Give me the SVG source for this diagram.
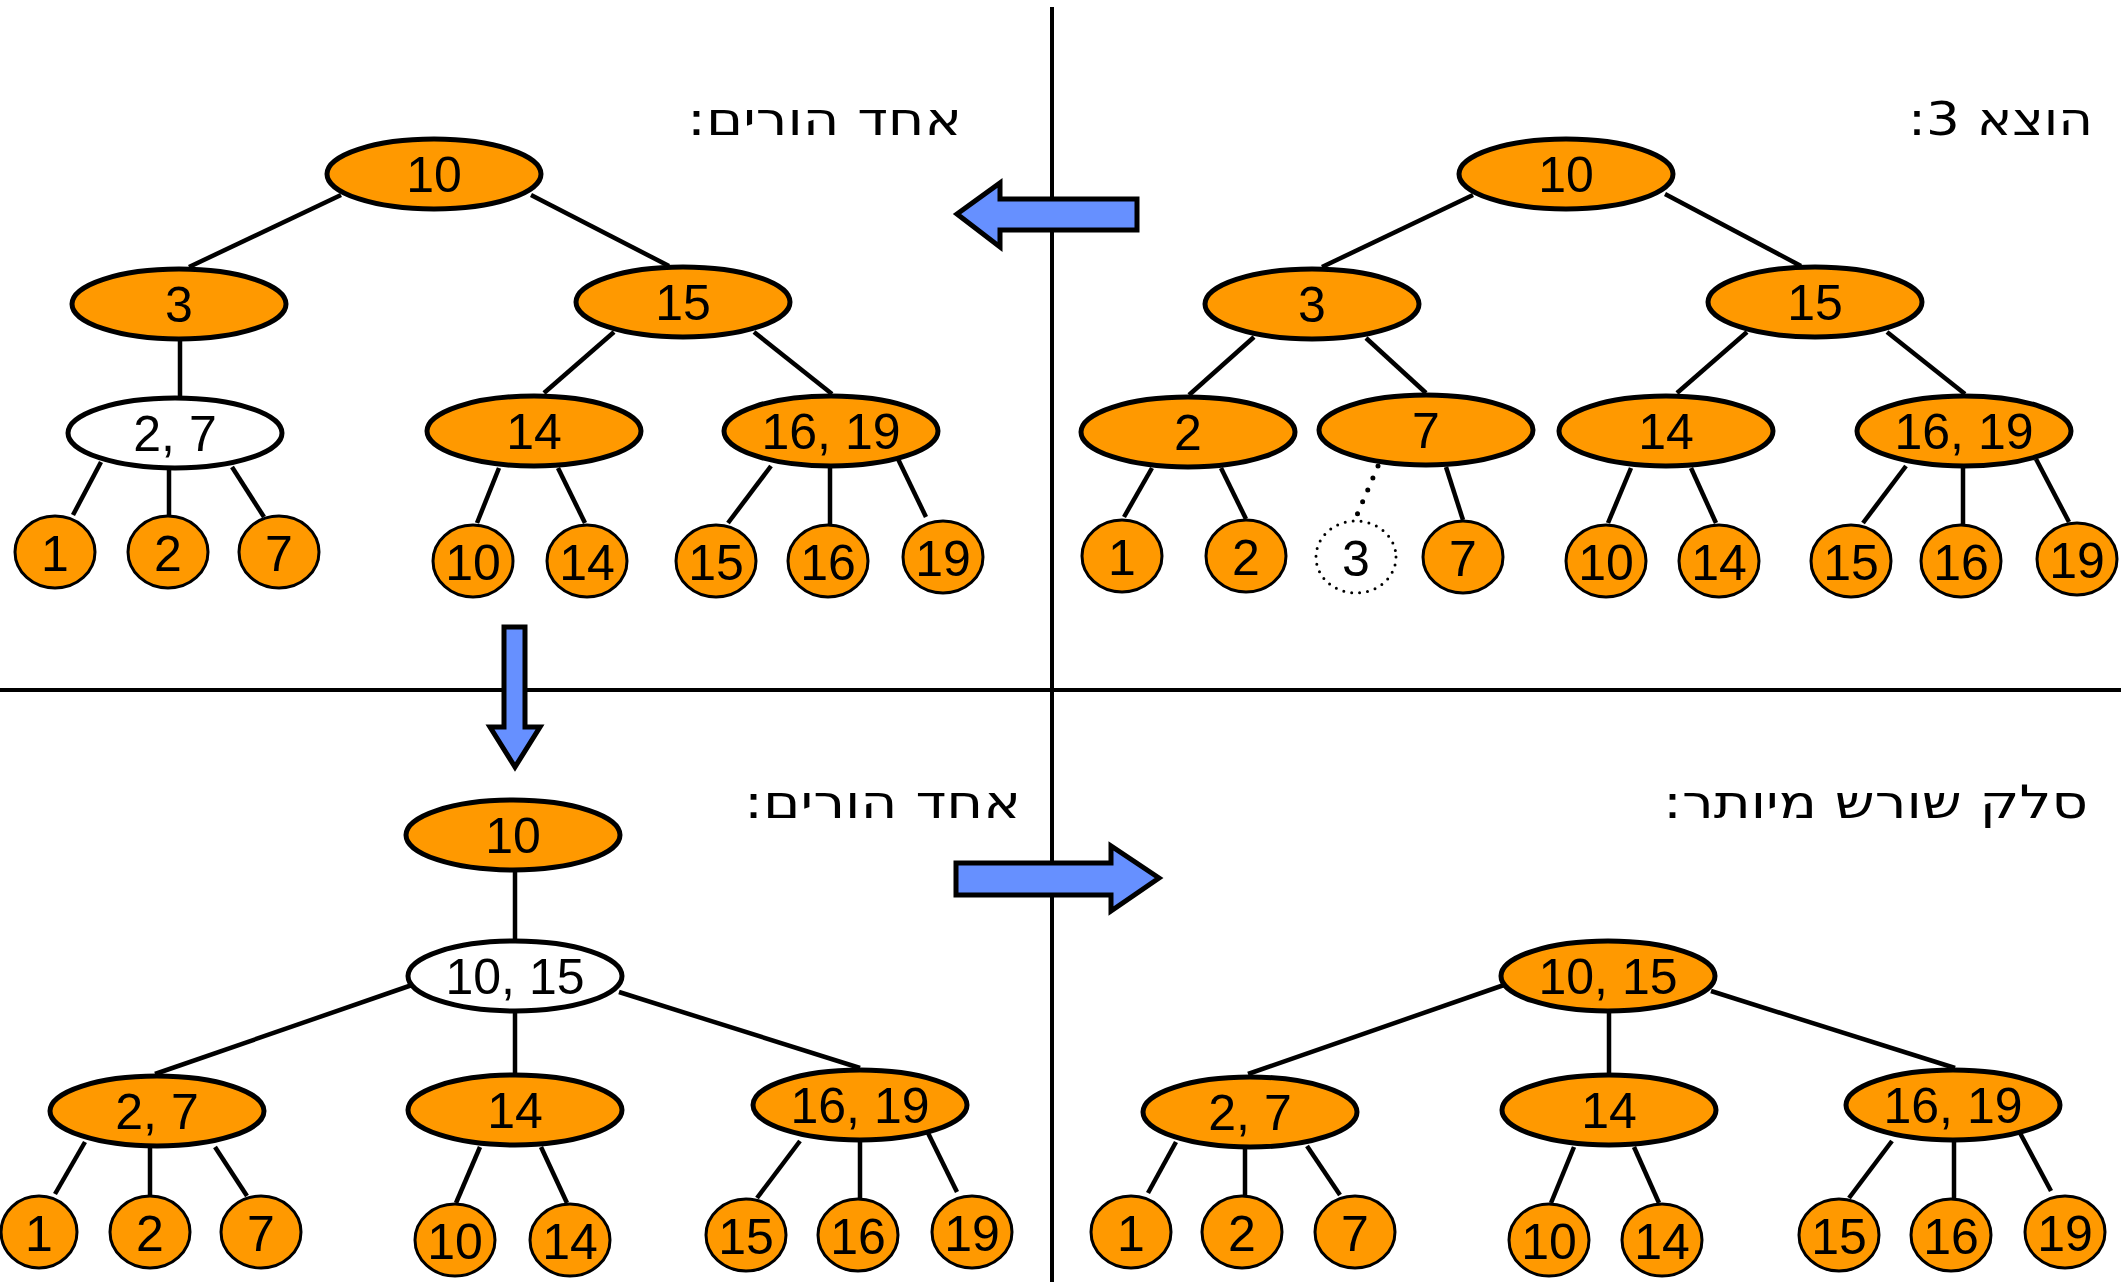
<svg xmlns="http://www.w3.org/2000/svg" width="2121" height="1282" viewBox="0 0 2121 1282">
<style>
.n{fill:#FF9900;stroke:#000;stroke-width:5}
.w{fill:#FFFFFF;stroke:#000;stroke-width:5}
.lf{fill:#FF9900;stroke:#000;stroke-width:3}
.dl{fill:none;stroke:#000;stroke-width:3;stroke-dasharray:0 8;stroke-linecap:round}
.t{font-family:"Liberation Sans","DejaVu Sans",sans-serif;font-size:50px;text-anchor:middle;fill:#000}
.e{stroke:#000;stroke-width:4.5;fill:none}
.dot{stroke:#000;stroke-width:5;stroke-dasharray:0 13;stroke-linecap:round;fill:none}
.title{font-family:"DejaVu Sans","Liberation Sans",sans-serif;font-size:46px;fill:#000}
.arrow{fill:#6690FF;stroke:#000;stroke-width:5}
.div{stroke:#000;stroke-width:4}
</style>
<rect width="2121" height="1282" fill="#fff"/>
<g id="dividers">
<line class="div" x1="1052" y1="7" x2="1052" y2="1282"/>
<line class="div" x1="0" y1="690" x2="2121" y2="690"/>
</g>
<g id="titles">
<text class="title" x="2093" y="135" direction="rtl" text-anchor="start" textLength="185" lengthAdjust="spacingAndGlyphs">הוצא 3:</text>
<text class="title" x="962" y="135" direction="rtl" text-anchor="start" textLength="275" lengthAdjust="spacingAndGlyphs">אחד הורים:</text>
<text class="title" x="1021" y="818" direction="rtl" text-anchor="start" textLength="277" lengthAdjust="spacingAndGlyphs">אחד הורים:</text>
<text class="title" x="2088" y="818" direction="rtl" text-anchor="start" textLength="425" lengthAdjust="spacingAndGlyphs">סלק שורש מיותר:</text>
</g>
<g id="arrows">
<polygon class="arrow" points="957,214 1000,183 1000,199 1137,199 1137,230 1000,230 1000,247"/>
<polygon class="arrow" points="504,627 525,627 525,727 540,727 515,767 490,727 504,727"/>
<polygon class="arrow" points="956,863 1111,863 1111,846 1159,878 1111,911 1111,895 956,895"/>
</g>
<g id="connectors">
<!-- top right -->
<line class="e" x1="1473" y1="195" x2="1322" y2="267"/>
<line class="e" x1="1665" y1="194" x2="1801" y2="266"/>
<line class="e" x1="1254" y1="337" x2="1189" y2="395"/>
<line class="e" x1="1366" y1="338" x2="1426" y2="393"/>
<line class="e" x1="1747" y1="332" x2="1677" y2="393"/>
<line class="e" x1="1887" y1="332" x2="1965" y2="394"/>
<line class="e" x1="1152" y1="468" x2="1124" y2="517"/>
<line class="e" x1="1221" y1="468" x2="1246" y2="519"/>
<line class="dot" x1="1378" y1="466" x2="1357" y2="515"/>
<line class="e" x1="1446" y1="467" x2="1463" y2="520"/>
<line class="e" x1="1631" y1="468" x2="1608" y2="523"/>
<line class="e" x1="1691" y1="468" x2="1716" y2="523"/>
<line class="e" x1="1906" y1="466" x2="1863" y2="523"/>
<line class="e" x1="1963" y1="467" x2="1963" y2="524"/>
<line class="e" x1="2036" y1="459" x2="2069" y2="522"/>
<!-- top left -->
<line class="e" x1="341" y1="195" x2="189" y2="267"/>
<line class="e" x1="531" y1="195" x2="669" y2="266"/>
<line class="e" x1="180" y1="340" x2="180" y2="398"/>
<line class="e" x1="614" y1="332" x2="544" y2="393"/>
<line class="e" x1="754" y1="332" x2="832" y2="394"/>
<line class="e" x1="101" y1="462" x2="73" y2="515"/>
<line class="e" x1="169" y1="468" x2="169" y2="516"/>
<line class="e" x1="232" y1="467" x2="264" y2="517"/>
<line class="e" x1="499" y1="468" x2="477" y2="523"/>
<line class="e" x1="558" y1="468" x2="585" y2="523"/>
<line class="e" x1="771" y1="466" x2="728" y2="523"/>
<line class="e" x1="830" y1="468" x2="830" y2="524"/>
<line class="e" x1="898" y1="459" x2="926" y2="517"/>
<!-- bottom left -->
<line class="e" x1="515" y1="870" x2="515" y2="942"/>
<line class="e" x1="412" y1="985" x2="155" y2="1074"/>
<line class="e" x1="515" y1="1011" x2="515" y2="1074"/>
<line class="e" x1="619" y1="992" x2="860" y2="1068"/>
<line class="e" x1="85" y1="1142" x2="55" y2="1194"/>
<line class="e" x1="150" y1="1146" x2="150" y2="1196"/>
<line class="e" x1="215" y1="1147" x2="247" y2="1196"/>
<line class="e" x1="480" y1="1147" x2="456" y2="1203"/>
<line class="e" x1="541" y1="1147" x2="567" y2="1203"/>
<line class="e" x1="800" y1="1141" x2="757" y2="1198"/>
<line class="e" x1="860" y1="1141" x2="860" y2="1199"/>
<line class="e" x1="928" y1="1133" x2="957" y2="1192"/>
<!-- bottom right -->
<line class="e" x1="1504" y1="985" x2="1248" y2="1074"/>
<line class="e" x1="1609" y1="1011" x2="1609" y2="1074"/>
<line class="e" x1="1711" y1="991" x2="1955" y2="1068"/>
<line class="e" x1="1176" y1="1142" x2="1148" y2="1193"/>
<line class="e" x1="1245" y1="1147" x2="1245" y2="1196"/>
<line class="e" x1="1307" y1="1146" x2="1340" y2="1195"/>
<line class="e" x1="1574" y1="1147" x2="1551" y2="1203"/>
<line class="e" x1="1634" y1="1147" x2="1659" y2="1203"/>
<line class="e" x1="1892" y1="1141" x2="1849" y2="1198"/>
<line class="e" x1="1954" y1="1141" x2="1954" y2="1199"/>
<line class="e" x1="2020" y1="1133" x2="2051" y2="1191"/>
</g>
<!-- top right nodes -->
<g id="tr_root"><ellipse class="n" cx="1566" cy="174" rx="107" ry="35"/><text class="t" x="1566" y="192">10</text></g>
<g id="tr_3"><ellipse class="n" cx="1312" cy="304" rx="107" ry="35"/><text class="t" x="1312" y="322">3</text></g>
<g id="tr_15"><ellipse class="n" cx="1815" cy="302" rx="107" ry="35"/><text class="t" x="1815" y="320">15</text></g>
<g id="tr_2"><ellipse class="n" cx="1188" cy="432" rx="107" ry="35"/><text class="t" x="1188" y="450">2</text></g>
<g id="tr_7"><ellipse class="n" cx="1426" cy="430" rx="107" ry="35"/><text class="t" x="1426" y="448">7</text></g>
<g id="tr_14"><ellipse class="n" cx="1666" cy="431" rx="107" ry="35"/><text class="t" x="1666" y="449">14</text></g>
<g id="tr_1619"><ellipse class="n" cx="1964" cy="431" rx="107" ry="35"/><text class="t" x="1964" y="449">16, 19</text></g>
<g id="tr_l1"><ellipse class="lf" cx="1122" cy="556" rx="40" ry="36"/><text class="t" x="1122" y="575">1</text></g>
<g id="tr_l2"><ellipse class="lf" cx="1246" cy="556" rx="40" ry="36"/><text class="t" x="1246" y="575">2</text></g>
<g id="tr_l3"><ellipse class="dl" cx="1356" cy="557" rx="40" ry="36"/><text class="t" x="1356" y="576">3</text></g>
<g id="tr_l7"><ellipse class="lf" cx="1463" cy="557" rx="40" ry="36"/><text class="t" x="1463" y="576">7</text></g>
<g id="tr_l10"><ellipse class="lf" cx="1606" cy="561" rx="40" ry="36"/><text class="t" x="1606" y="580">10</text></g>
<g id="tr_l14"><ellipse class="lf" cx="1719" cy="561" rx="40" ry="36"/><text class="t" x="1719" y="580">14</text></g>
<g id="tr_l15"><ellipse class="lf" cx="1851" cy="561" rx="40" ry="36"/><text class="t" x="1851" y="580">15</text></g>
<g id="tr_l16"><ellipse class="lf" cx="1961" cy="561" rx="40" ry="36"/><text class="t" x="1961" y="580">16</text></g>
<g id="tr_l19"><ellipse class="lf" cx="2077" cy="559" rx="40" ry="36"/><text class="t" x="2077" y="578">19</text></g>
<!-- top left nodes -->
<g id="tl_root"><ellipse class="n" cx="434" cy="174" rx="107" ry="35"/><text class="t" x="434" y="192">10</text></g>
<g id="tl_3"><ellipse class="n" cx="179" cy="304" rx="107" ry="35"/><text class="t" x="179" y="322">3</text></g>
<g id="tl_15"><ellipse class="n" cx="683" cy="302" rx="107" ry="35"/><text class="t" x="683" y="320">15</text></g>
<g id="tl_27"><ellipse class="w" cx="175" cy="433" rx="107" ry="35"/><text class="t" x="175" y="451">2, 7</text></g>
<g id="tl_14"><ellipse class="n" cx="534" cy="431" rx="107" ry="35"/><text class="t" x="534" y="449">14</text></g>
<g id="tl_1619"><ellipse class="n" cx="831" cy="431" rx="107" ry="35"/><text class="t" x="831" y="449">16, 19</text></g>
<g id="tl_l1"><ellipse class="lf" cx="55" cy="552" rx="40" ry="36"/><text class="t" x="55" y="571">1</text></g>
<g id="tl_l2"><ellipse class="lf" cx="168" cy="552" rx="40" ry="36"/><text class="t" x="168" y="571">2</text></g>
<g id="tl_l7"><ellipse class="lf" cx="279" cy="552" rx="40" ry="36"/><text class="t" x="279" y="571">7</text></g>
<g id="tl_l10"><ellipse class="lf" cx="473" cy="561" rx="40" ry="36"/><text class="t" x="473" y="580">10</text></g>
<g id="tl_l14"><ellipse class="lf" cx="587" cy="561" rx="40" ry="36"/><text class="t" x="587" y="580">14</text></g>
<g id="tl_l15"><ellipse class="lf" cx="716" cy="561" rx="40" ry="36"/><text class="t" x="716" y="580">15</text></g>
<g id="tl_l16"><ellipse class="lf" cx="828" cy="561" rx="40" ry="36"/><text class="t" x="828" y="580">16</text></g>
<g id="tl_l19"><ellipse class="lf" cx="943" cy="557" rx="40" ry="36"/><text class="t" x="943" y="576">19</text></g>
<!-- bottom left nodes -->
<g id="bl_root"><ellipse class="n" cx="513" cy="835" rx="107" ry="35"/><text class="t" x="513" y="853">10</text></g>
<g id="bl_1015"><ellipse class="w" cx="515" cy="976" rx="107" ry="35"/><text class="t" x="515" y="994">10, 15</text></g>
<g id="bl_27"><ellipse class="n" cx="157" cy="1111" rx="107" ry="35"/><text class="t" x="157" y="1129">2, 7</text></g>
<g id="bl_14"><ellipse class="n" cx="515" cy="1110" rx="107" ry="35"/><text class="t" x="515" y="1128">14</text></g>
<g id="bl_1619"><ellipse class="n" cx="860" cy="1105" rx="107" ry="35"/><text class="t" x="860" y="1123">16, 19</text></g>
<g id="bl_l1"><ellipse class="lf" cx="39" cy="1232" rx="38" ry="36"/><text class="t" x="39" y="1251">1</text></g>
<g id="bl_l2"><ellipse class="lf" cx="150" cy="1232" rx="40" ry="36"/><text class="t" x="150" y="1251">2</text></g>
<g id="bl_l7"><ellipse class="lf" cx="261" cy="1232" rx="40" ry="36"/><text class="t" x="261" y="1251">7</text></g>
<g id="bl_l10"><ellipse class="lf" cx="455" cy="1240" rx="40" ry="36"/><text class="t" x="455" y="1259">10</text></g>
<g id="bl_l14"><ellipse class="lf" cx="570" cy="1240" rx="40" ry="36"/><text class="t" x="570" y="1259">14</text></g>
<g id="bl_l15"><ellipse class="lf" cx="746" cy="1235" rx="40" ry="36"/><text class="t" x="746" y="1254">15</text></g>
<g id="bl_l16"><ellipse class="lf" cx="858" cy="1235" rx="40" ry="36"/><text class="t" x="858" y="1254">16</text></g>
<g id="bl_l19"><ellipse class="lf" cx="972" cy="1232" rx="40" ry="36"/><text class="t" x="972" y="1251">19</text></g>
<!-- bottom right nodes -->
<g id="br_1015"><ellipse class="n" cx="1608" cy="976" rx="107" ry="35"/><text class="t" x="1608" y="994">10, 15</text></g>
<g id="br_27"><ellipse class="n" cx="1250" cy="1112" rx="107" ry="35"/><text class="t" x="1250" y="1130">2, 7</text></g>
<g id="br_14"><ellipse class="n" cx="1609" cy="1110" rx="107" ry="35"/><text class="t" x="1609" y="1128">14</text></g>
<g id="br_1619"><ellipse class="n" cx="1953" cy="1105" rx="107" ry="35"/><text class="t" x="1953" y="1123">16, 19</text></g>
<g id="br_l1"><ellipse class="lf" cx="1131" cy="1232" rx="40" ry="36"/><text class="t" x="1131" y="1251">1</text></g>
<g id="br_l2"><ellipse class="lf" cx="1242" cy="1232" rx="40" ry="36"/><text class="t" x="1242" y="1251">2</text></g>
<g id="br_l7"><ellipse class="lf" cx="1355" cy="1232" rx="40" ry="36"/><text class="t" x="1355" y="1251">7</text></g>
<g id="br_l10"><ellipse class="lf" cx="1549" cy="1240" rx="40" ry="36"/><text class="t" x="1549" y="1259">10</text></g>
<g id="br_l14"><ellipse class="lf" cx="1662" cy="1240" rx="40" ry="36"/><text class="t" x="1662" y="1259">14</text></g>
<g id="br_l15"><ellipse class="lf" cx="1839" cy="1235" rx="40" ry="36"/><text class="t" x="1839" y="1254">15</text></g>
<g id="br_l16"><ellipse class="lf" cx="1951" cy="1235" rx="40" ry="36"/><text class="t" x="1951" y="1254">16</text></g>
<g id="br_l19"><ellipse class="lf" cx="2065" cy="1232" rx="40" ry="36"/><text class="t" x="2065" y="1251">19</text></g>
</svg>
